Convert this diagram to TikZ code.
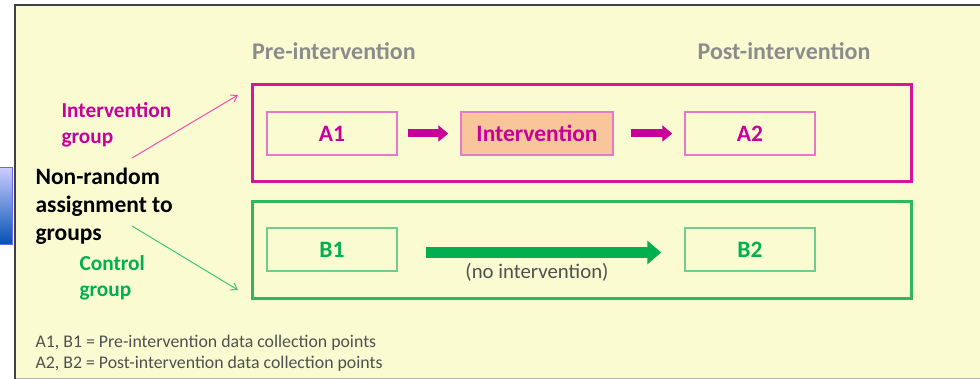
\documentclass[tikz,border=0pt]{standalone}
\usepackage{fontspec}
\setmainfont{Carlito}
\usetikzlibrary{arrows.meta}

\definecolor{bgyellow}{HTML}{FBFBD2}
\definecolor{mag}{HTML}{C8009A}
\definecolor{magline}{HTML}{D4159E}
\definecolor{maglight}{HTML}{E67AC8}
\definecolor{grn}{HTML}{00B050}
\definecolor{grnline}{HTML}{33B560}
\definecolor{grnlight}{HTML}{70CC90}
\definecolor{peach}{HTML}{F9C59A}
\definecolor{headgray}{HTML}{8C8C8C}
\definecolor{notegray}{HTML}{505050}

\tikzset{
  pointbox/.style={draw, line width=1.5pt, minimum width=130pt, minimum height=43pt,
    inner sep=0pt, font=\fontsize{23.5}{26}\selectfont\bfseries},
  groupbox/.style={draw, line width=3pt, minimum width=659pt, minimum height=97pt, inner sep=0pt},
  fatarrow/.style={line width=8pt, -{Triangle[length=10pt,width=16pt]}},
  thinarrow/.style={line width=1pt, -{Straight Barb[length=6pt,width=8pt]}}
}

\begin{document}
\begin{tikzpicture}[x=1pt,y=-1pt]

\useasboundingbox (0,0) rectangle (980,379);
\clip (0,0) rectangle (980,379);

\coordinate (startA) at (132,158);
\coordinate (tipA) at (238,95);
\coordinate (startB) at (132,226);
\coordinate (tipB) at (238,290);

% frame
\fill[bgyellow] (15,5) rectangle (990,378);
\draw[gray!60,line width=1pt] (15,378) -- (990,378);
\draw[black!75,line width=2.5pt] (15,390) -- (15,5) -- (990,5);
\shade[top color=blue!20, bottom color=blue!55!cyan!70!black] (-5,168) rectangle (12,245);
\draw[blue!60,line width=1pt] (-5,168) -- (12,168) -- (12,245) -- (-5,245);

\node[font=\fontsize{24}{26}\selectfont\bfseries, text=headgray] (pre) at (334,51) {Pre-intervention};
\node[font=\fontsize{24}{26}\selectfont\bfseries, text=headgray] (post) at (784,51) {Post-intervention};

\node[groupbox, draw=magline] (grpA) at (581.5,133.5) {};
\node[groupbox, draw=grnline] (grpB) at (581.5,250) {};

\node[pointbox, draw=maglight, text=mag] (A1) at (332,133.5) {A1};
\node[pointbox, draw=maglight, fill=peach, text=mag, minimum width=152pt] (int) at (537,133.5) {Intervention};
\node[pointbox, draw=maglight, text=mag] (A2) at (750,133.5) {A2};
\node[pointbox, draw=grnlight, text=grn] (B1) at (332,249.5) {B1};
\node[pointbox, draw=grnlight, text=grn] (B2) at (750,249.5) {B2};

\draw[fatarrow, mag, shorten <=10pt, shorten >=12pt] (A1) -- (int);
\draw[fatarrow, mag, shorten <=17pt, shorten >=12pt] (int) -- (A2);
\draw[grn, line width=11pt, -{Triangle[length=14pt,width=23pt]}, shorten <=28pt, shorten >=23pt]
  ([yshift=-3pt]B1.east) -- ([yshift=-3pt]B2.west);
\node[font=\fontsize{20.8}{24}\selectfont, text=notegray] (noint) at (537,272) {(no intervention)};

\node[align=left, anchor=west, text=mag, font=\fontsize{21.3}{26}\selectfont\bfseries] (lblA) at (58,125) {Intervention\\group};
\node[align=left, anchor=west, font=\fontsize{23.5}{28}\selectfont\bfseries] (assign) at (32,206) {Non-random\\assignment to\\groups};
\node[align=left, anchor=west, text=grn, font=\fontsize{21.3}{26}\selectfont\bfseries] (lblB) at (76,278) {Control\\group};

\draw[thinarrow, magenta!70] (startA) -- (tipA);
\draw[thinarrow, grn!75] (startB) -- (tipB);

\node[align=left, anchor=west, text=notegray, font=\fontsize{17.8}{21}\selectfont] (note) at (32,353.5)
  {A1, B1 = Pre-intervention data collection points\\A2, B2 = Post-intervention data collection points};

\end{tikzpicture}
\end{document}
